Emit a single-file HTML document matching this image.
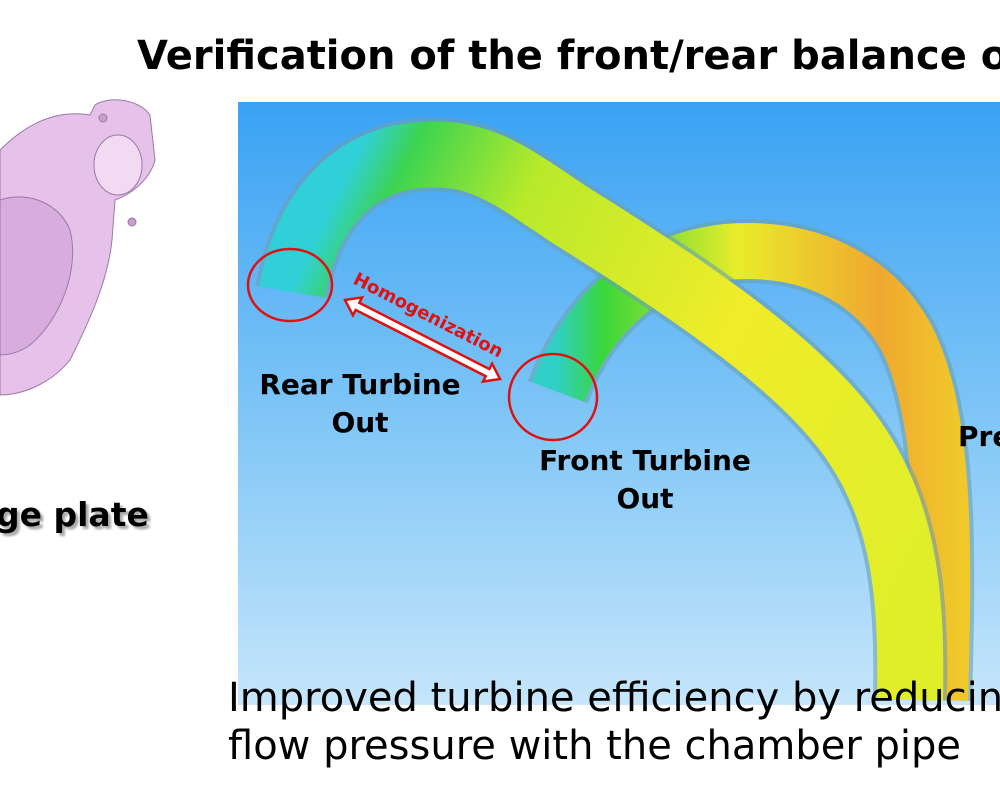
<!DOCTYPE html>
<html><head><meta charset="utf-8"><style>
html,body{margin:0;padding:0;background:#fff;width:1000px;height:786px;overflow:hidden;position:relative;font-family:"DejaVu Sans","Liberation Sans",sans-serif}
.t{position:absolute;white-space:nowrap;color:#000}
.c{position:absolute;width:300px;text-align:center;font-size:28px;font-weight:bold;line-height:38px;white-space:nowrap}
</style></head><body>
<svg width="1000" height="786" style="position:absolute;left:0;top:0">
<defs>
<linearGradient id="bg" x1="0" y1="0" x2="0" y2="1">
<stop offset="0" stop-color="#3aa2f4"/><stop offset="0.5" stop-color="#7cc4f6"/><stop offset="1" stop-color="#c6e6fb"/>
</linearGradient>
<linearGradient id="rp" gradientUnits="userSpaceOnUse" x1="285" y1="300" x2="900" y2="600">
<stop offset="0" stop-color="#30d0d8"/><stop offset="0.07" stop-color="#3cd450"/><stop offset="0.25" stop-color="#b8ea2a"/><stop offset="0.6" stop-color="#f0ec2a"/><stop offset="1" stop-color="#e0ee2a"/>
</linearGradient>
<linearGradient id="fp" gradientUnits="userSpaceOnUse" x1="555" y1="400" x2="960" y2="400">
<stop offset="0" stop-color="#30d0c8"/><stop offset="0.12" stop-color="#3ad63a"/><stop offset="0.45" stop-color="#e8ec2a"/><stop offset="0.8" stop-color="#f0a830"/><stop offset="1" stop-color="#f0c82a"/>
</linearGradient>
</defs>
<rect x="238" y="102" width="762" height="603" fill="url(#bg)"/>
<!-- front pipe -->
<path d="M558 392 C585 320 640 262 725 252 C805 245 870 275 905 335 C945 410 945 540 940 700" fill="none" stroke="#6aa0b0" stroke-width="64" opacity="0.6"/>
<path d="M558 392 C585 320 640 262 725 252 C805 245 870 275 905 335 C945 410 945 540 940 700" fill="none" stroke="url(#fp)" stroke-width="56"/>
<!-- rear pipe -->
<path d="M292 292 C305 215 350 160 420 155 C480 150 510 175 570 215 C690 290 810 370 860 450 C905 520 912 600 910 700" fill="none" stroke="#6aa0b0" stroke-width="74" opacity="0.6"/>
<path d="M292 292 C305 215 350 160 420 155 C480 150 510 175 570 215 C690 290 810 370 860 450 C905 520 912 600 910 700" fill="none" stroke="url(#rp)" stroke-width="66"/>
<ellipse cx="290" cy="285" rx="42" ry="36" fill="none" stroke="#e01010" stroke-width="2.5"/>
<ellipse cx="553" cy="397" rx="44" ry="43" fill="none" stroke="#e01010" stroke-width="2.5"/>
<!-- double arrow -->
<g transform="translate(345,300) rotate(27)">
<polygon points="0,0 14,-10 14,-4 160,-4 160,-10 174,0 160,10 160,4 14,4 14,10" fill="#fff" stroke="#e01010" stroke-width="2.5"/>
</g>
<text x="352" y="283" transform="rotate(27 352 283)" fill="#e01010" font-family="DejaVu Sans, sans-serif" font-size="18" font-weight="bold">Homogenization</text>
<!-- CAD part -->
<g fill="#e6c2ea" stroke="#9a78a8" stroke-width="1">
<path d="M0 150 C30 120 60 110 90 115 L95 105 C110 95 140 100 150 115 L155 160 C150 180 130 195 115 200 L112 240 C108 280 90 320 70 360 C50 385 20 395 0 395 Z"/>
<ellipse cx="118" cy="165" rx="24" ry="30" fill="#f2daf2"/>
<path d="M0 200 C30 190 60 205 70 230 C80 270 60 320 30 345 C20 352 10 355 0 355 Z" fill="#d8acdc"/>
<circle cx="103" cy="118" r="4" fill="#c8a0cc"/>
<circle cx="132" cy="222" r="4" fill="#c8a0cc"/>
</g>
</svg>
<div class="t" style="left:137px;top:33px;font-size:40px;font-weight:bold">Verification of the front/rear balance o</div>
<div class="c" style="left:210px;top:366px">Rear Turbine<br>Out</div>
<div class="c" style="left:495px;top:442px">Front Turbine<br>Out</div>
<div class="t" style="left:958px;top:420px;font-size:28px;font-weight:bold">Pre</div>
<div class="t" style="left:-4px;top:495px;font-size:33px;font-weight:bold;text-shadow:3px 3px 2px #aaa">ge plate</div>
<div class="t" style="left:228px;top:674px;font-size:40px;line-height:48px">Improved turbine efficiency by reducin<br>flow pressure with the chamber pipe</div>
</body></html>
